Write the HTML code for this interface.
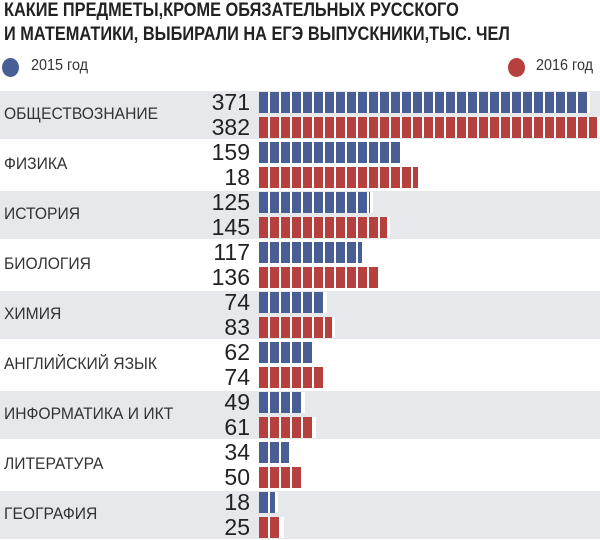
<!DOCTYPE html>
<html><head><meta charset="utf-8"><style>
body{margin:0;width:600px;height:540px;background:#fff;overflow:hidden;position:relative;font-family:"Liberation Sans",sans-serif}
.t{position:absolute;left:4px;font-weight:bold;font-size:19px;color:#222;white-space:nowrap;transform:scaleX(0.86);transform-origin:0 0}
.band{position:absolute;left:0;width:600px;height:48px;background:#e6e8ec}
.lab{position:absolute;left:4px;font-size:17px;color:#333;white-space:nowrap;transform:scaleX(0.92);transform-origin:0 0}
.num{position:absolute;right:350px;font-size:23px;color:#222;text-align:right;line-height:22px}
.bar{position:absolute;left:259px;height:21px;box-shadow:3px 0 0 #fff}
.b{background:repeating-linear-gradient(90deg,#4a5e96 0 9px,#fff 9px 11px)}
.r{background:repeating-linear-gradient(90deg,#b6403d 0 9px,#fff 9px 11px)}
.dot{position:absolute;width:17px;height:19px;border-radius:50%}
.lg{position:absolute;top:57px;font-size:16px;color:#333;white-space:nowrap;transform:scaleX(0.9);transform-origin:0 0}
</style></head><body>
<div class="t" style="top:0px">КАКИЕ ПРЕДМЕТЫ,КРОМЕ ОБЯЗАТЕЛЬНЫХ РУССКОГО</div>
<div class="t" style="top:24px">И МАТЕМАТИКИ, ВЫБИРАЛИ НА ЕГЭ ВЫПУСКНИКИ,ТЫС. ЧЕЛ</div>
<div class="dot" style="left:2px;top:58px;background:#4a5e96"></div>
<div class="lg" style="left:31px">2015 год</div>
<div class="dot" style="left:508px;top:58px;background:#b6403d"></div>
<div class="lg" style="left:536px">2016 год</div>
<div id="c"></div>
<script>
var d=[["ОБЩЕСТВОЗНАНИЕ","371","382",371,382],["ФИЗИКА","159","18",159,180],["ИСТОРИЯ","125","145",125,145],["БИОЛОГИЯ","117","136",117,136],["ХИМИЯ","74","83",74,83],["АНГЛИЙСКИЙ ЯЗЫК","62","74",62,74],["ИНФОРМАТИКА И ИКТ","49","61",49,61],["ЛИТЕРАТУРА","34","50",34,50],["ГЕОГРАФИЯ","18","25",18,25]];
var h="";
d.forEach(function(r,i){var y=91+50*i;
if(i%2==0)h+='<div class="band" style="top:'+y+'px"></div>';
h+='<div class="lab" style="top:'+(y+13)+'px">'+r[0]+'</div>';
h+='<div class="num" style="top:'+(y)+'px">'+r[1]+'</div>';
h+='<div class="num" style="top:'+(y+25)+'px">'+r[2]+'</div>';
h+='<div class="bar b" style="top:'+(y+1)+'px;width:'+Math.round(r[3]*0.884)+'px"></div>';
h+='<div class="bar r" style="top:'+(y+26)+'px;width:'+Math.round(r[4]*0.884)+'px"></div>';});
document.getElementById("c").innerHTML=h;
</script>
</body></html>
